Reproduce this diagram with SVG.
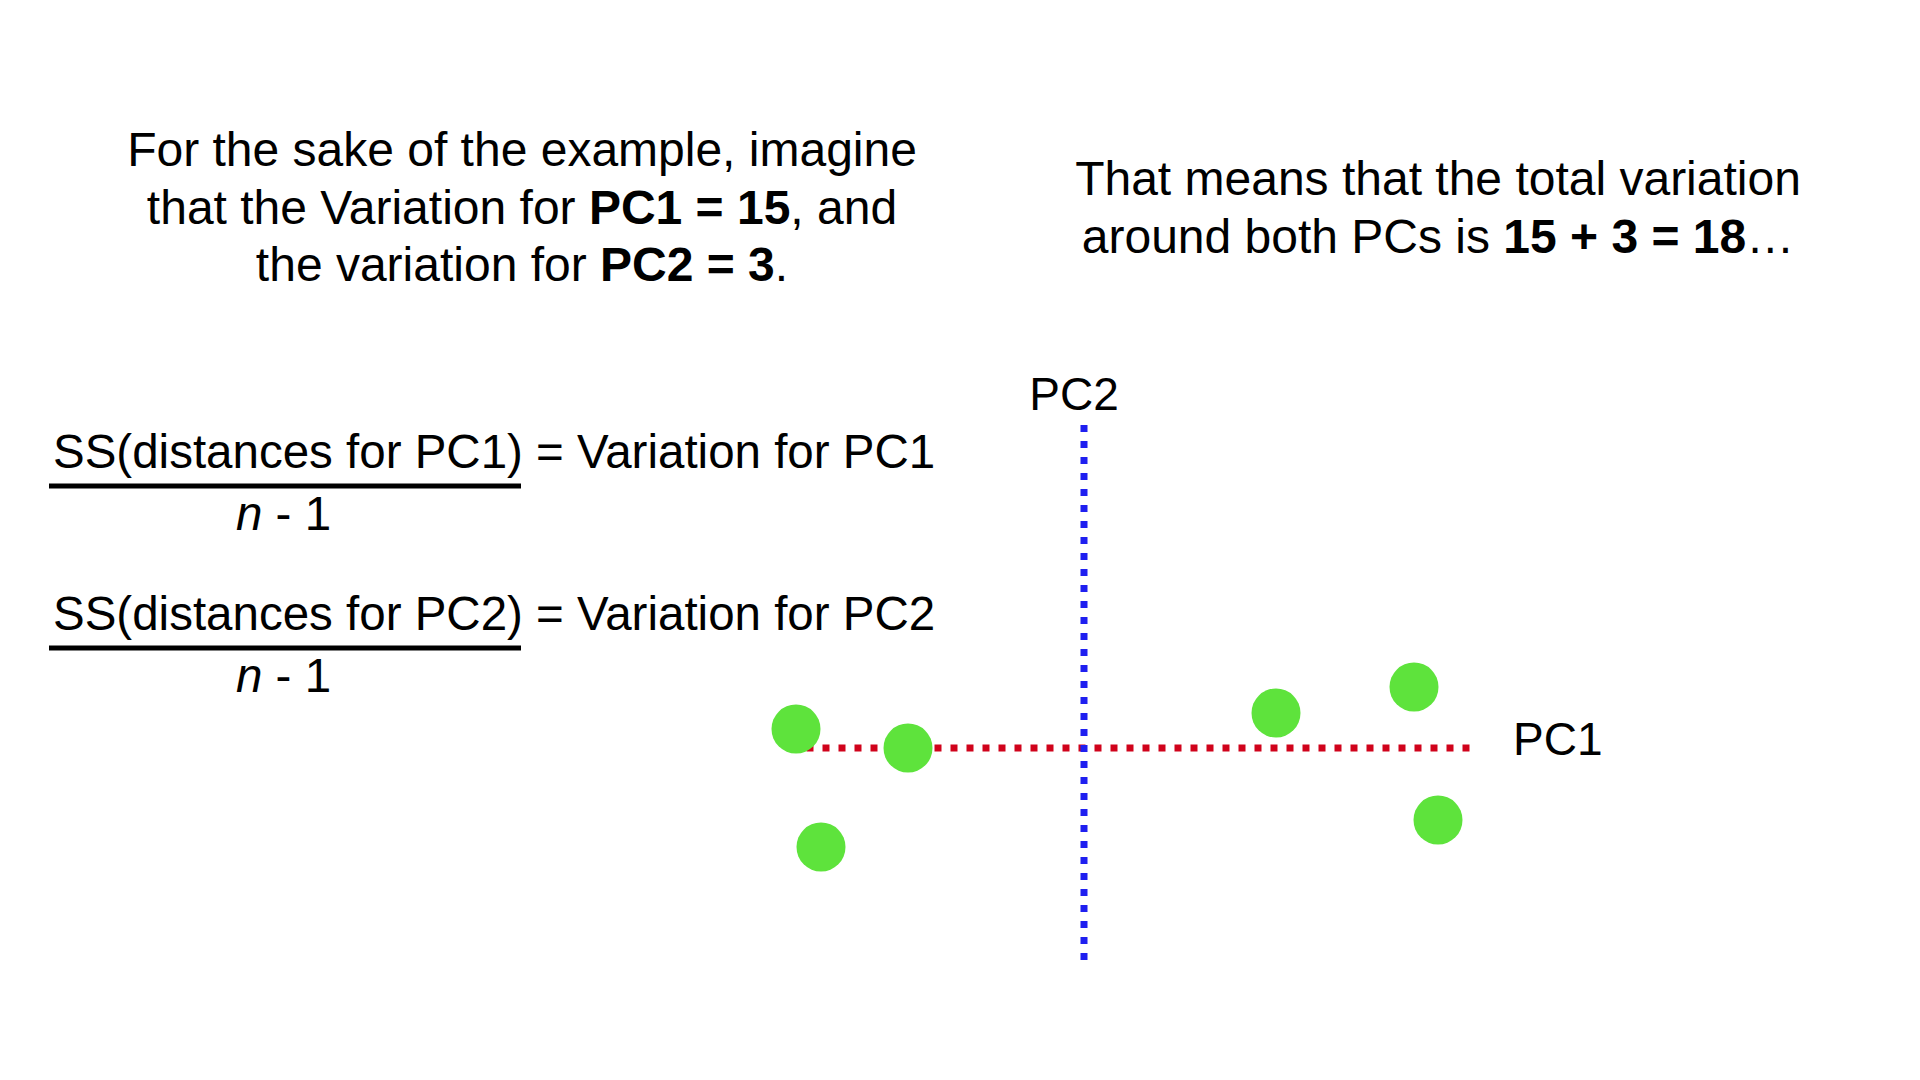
<svg xmlns="http://www.w3.org/2000/svg" width="1920" height="1080" viewBox="0 0 1920 1080">
  <style>
    .t { font-family: "Liberation Sans", Arial, Helvetica, sans-serif; fill: #000; }
    .big { font-size: 48px; }
    .f { font-size: 47.5px; }
    .lbl { font-size: 46px; }
    .b { font-weight: bold; }
    .pt { fill: #5EE33C; }
    .bar { fill: #000; }
  </style>
  <rect x="0" y="0" width="1920" height="1080" fill="#ffffff"/>

  <g id="text-example">
    <text class="t big" x="522" y="166" text-anchor="middle">For the sake of the example, imagine</text>
    <text class="t big" x="522" y="224" text-anchor="middle">that the Variation for <tspan class="b">PC1 = 15</tspan>, and</text>
    <text class="t big" x="522" y="281" text-anchor="middle">the variation for <tspan class="b">PC2 = 3</tspan>.</text>
  </g>

  <g id="text-total">
    <text class="t big" x="1438" y="195" text-anchor="middle">That means that the total variation</text>
    <text class="t big" x="1438" y="253" text-anchor="middle">around both PCs is <tspan class="b">15 + 3 = 18</tspan>…</text>
  </g>

  <g id="formula-pc1">
    <text class="t f" x="53" y="468">SS(distances for PC1) = Variation for PC1</text>
    <rect class="bar" x="49" y="483.5" width="472" height="5"/>
    <text class="t f" x="236" y="530"><tspan font-style="italic">n</tspan> - 1</text>
  </g>

  <g id="formula-pc2">
    <text class="t f" x="53" y="630">SS(distances for PC2) = Variation for PC2</text>
    <rect class="bar" x="49" y="645.5" width="472" height="5"/>
    <text class="t f" x="236" y="692"><tspan font-style="italic">n</tspan> - 1</text>
  </g>

  <g id="connectors">
    <line id="axis-pc1" x1="806.5" y1="748" x2="1470" y2="748" stroke="#D0021B" stroke-width="7" stroke-dasharray="7 9"/>
    <line id="axis-pc2" x1="1084" y1="425" x2="1084" y2="962" stroke="#1F1FF0" stroke-width="7" stroke-dasharray="7 9"/>
  </g>

  <g id="label-pc2">
    <text class="t lbl" x="1074" y="410" text-anchor="middle">PC2</text>
  </g>
  <g id="label-pc1">
    <text class="t lbl" x="1513" y="755">PC1</text>
  </g>

  <g id="points">
    <circle id="p1" class="pt" cx="796" cy="729" r="24.5"/>
    <circle id="p2" class="pt" cx="908" cy="748" r="24.5"/>
    <circle id="p3" class="pt" cx="821" cy="847" r="24.5"/>
    <circle id="p4" class="pt" cx="1276" cy="713" r="24.5"/>
    <circle id="p5" class="pt" cx="1414" cy="687" r="24.5"/>
    <circle id="p6" class="pt" cx="1438" cy="820" r="24.5"/>
  </g>
</svg>
